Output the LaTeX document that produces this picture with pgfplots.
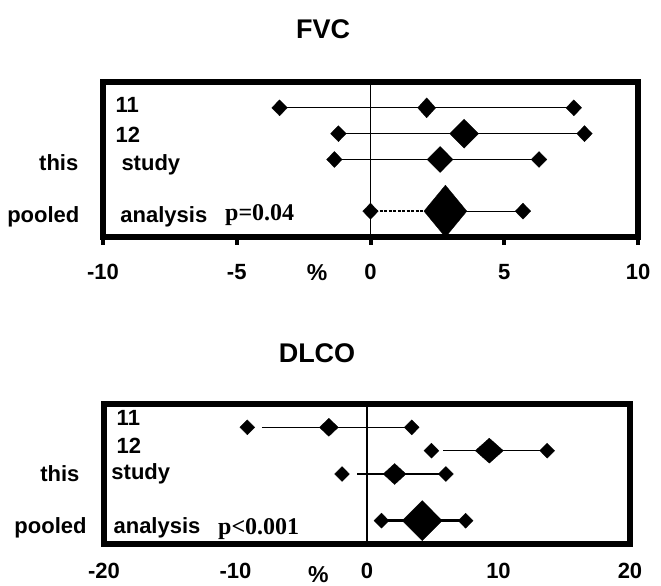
\documentclass[border=0pt]{standalone}
\usepackage{pgfplots}
\pgfplotsset{compat=1.18}
\usepackage{fontspec}
\setmainfont{Liberation Sans}
\newfontfamily\pserif{Liberation Serif}
\newcommand{\lab}{\fontsize{22}{22}\selectfont\bfseries}
\begin{document}
\begin{tikzpicture}
\useasboundingbox (0pt,0pt) rectangle (661pt,586pt);
\pgfplotsset{
  forest/.style={
    scale only axis, clip=false,
    axis line style={line width=6.5pt, line cap=rect},
    ymin=0, ymax=6, ytick=\empty,
    xtick pos=bottom, tick align=outside,
    major tick length=8pt,
    tick style={black, line width=4pt},
    tick label style={font=\lab},
    /pgf/number format/assume math mode=true,
  },
  ci/.style={black, line width=1.2pt, mark=none},
  dia/.style 2 args={only marks, mark=diamond*, mark size=#1pt,
     mark options={xscale=#2, fill=black, draw=black, line width=0.3pt, solid}},
}
% ---------------- FVC ----------------
\node[font=\fontsize{27}{27}\selectfont\bfseries] at (323pt,557pt) {FVC};
\begin{axis}[forest, at={(103pt,349pt)}, anchor=south west,
  width=535pt, height=155pt, xmin=-10, xmax=10, xtick={-10,-5,0,5,10},
  xticklabel style={yshift=-16pt}]
\addplot[black, line width=1.5pt, mark=none] coordinates {(0,0) (0,6)};
% study 11
\addplot[ci] coordinates {(-3.4,5) (7.6,5)};
\addplot[dia={8}{1.3}] coordinates {(-3.4,5) (7.6,5)};
\addplot[dia={10}{1.2}] coordinates {(2.1,5)};
% study 12
\addplot[ci] coordinates {(-1.2,4) (8.0,4)};
\addplot[dia={8}{1.3}] coordinates {(-1.2,4) (8.0,4)};
\addplot[dia={14.5}{1.33}] coordinates {(3.5,4)};
% this study
\addplot[ci] coordinates {(-1.35,3) (6.3,3)};
\addplot[dia={8}{1.3}] coordinates {(-1.35,3) (6.3,3)};
\addplot[dia={13}{1.33}] coordinates {(2.6,3)};
% pooled
\addplot[black, line width=2.5pt, dash pattern=on 3pt off 1.5pt, mark=none] coordinates {(0,1) (2.8,1)};
\addplot[ci] coordinates {(2.8,1) (5.7,1)};
\addplot[dia={8}{1.3}] coordinates {(0,1) (5.7,1)};
\addplot[dia={26}{1.1}] coordinates {(2.8,1)};
% labels
\node[font=\lab, anchor=base west] at (axis cs:-9.66,4.80) {11};
\node[font=\lab, anchor=base west] at (axis cs:-9.66,3.64) {12};
\node[font=\lab, anchor=base east] at (axis cs:-10.79,2.59) {this};
\node[font=\lab, anchor=base west] at (axis cs:-9.44,2.59) {study};
\node[font=\lab, anchor=base east] at (axis cs:-10.75,0.58) {pooled};
\node[font=\lab, anchor=base west] at (axis cs:-9.48,0.58) {analysis};
\node[font=\pserif\fontsize{24}{24}\selectfont\bfseries, anchor=base west, inner sep=0pt] at (axis cs:-5.44,0.62) {p=0.04};
\node[font=\fontsize{23}{23}\selectfont\bfseries] at (axis cs:-2.0,-1.36) {\%};
\end{axis}
% ---------------- DLCO ----------------
\node[font=\fontsize{27}{27}\selectfont\bfseries] at (317pt,233pt) {DLCO};
\begin{axis}[forest, at={(104pt,42pt)}, anchor=south west,
  width=526pt, height=140pt, xmin=-20, xmax=20, xtick={-20,-10,0,10,20},
  major tick length=3pt, tick style={black, line width=2pt},
  xticklabel style={yshift=-15pt, inner sep=1pt}]
\addplot[black, line width=1.5pt, mark=none] coordinates {(0,0) (0,6)};
% study 11
\addplot[ci] coordinates {(-8.0,5) (3.4,5)};
\addplot[dia={7.5}{1.33}] coordinates {(-9.1,5) (3.4,5)};
\addplot[dia={9}{1.4}] coordinates {(-2.9,5)};
% study 12
\addplot[ci] coordinates {(5.8,4) (13.7,4)};
\addplot[dia={7.5}{1.33}] coordinates {(4.9,4) (13.7,4)};
\addplot[dia={12.5}{1.5}] coordinates {(9.3,4)};
% this study
\addplot[ci] coordinates {(-0.76,3) (6.0,3)};
\addplot[dia={7.5}{1.33}] coordinates {(-1.9,3) (6.0,3)};
\addplot[dia={10.5}{1.45}] coordinates {(2.1,3)};
% pooled
\addplot[black, line width=2.5pt, mark=none] coordinates {(1.1,1) (7.5,1)};
\addplot[dia={7.5}{1.33}] coordinates {(1.1,1) (7.5,1)};
\addplot[dia={20}{1.33}] coordinates {(4.2,1)};
% labels
\node[font=\lab, anchor=base west] at (axis cs:-19.3,5.06) {11};
\node[font=\lab, anchor=base west] at (axis cs:-19.3,3.90) {12};
\node[font=\lab, anchor=base east] at (axis cs:-21.6,2.70) {this};
\node[font=\lab, anchor=base west] at (axis cs:-19.7,2.75) {study};
\node[font=\lab, anchor=base east] at (axis cs:-21.06,0.43) {pooled};
\node[font=\lab, anchor=base west] at (axis cs:-19.54,0.43) {analysis};
\node[font=\pserif\fontsize{24}{24}\selectfont\bfseries, anchor=base west, inner sep=0pt] at (axis cs:-11.33,0.41) {p<0.001};
\node[font=\fontsize{23}{23}\selectfont\bfseries, inner sep=0pt] at (axis cs:-3.7,-1.30) {\%};
\end{axis}
\end{tikzpicture}
\end{document}
